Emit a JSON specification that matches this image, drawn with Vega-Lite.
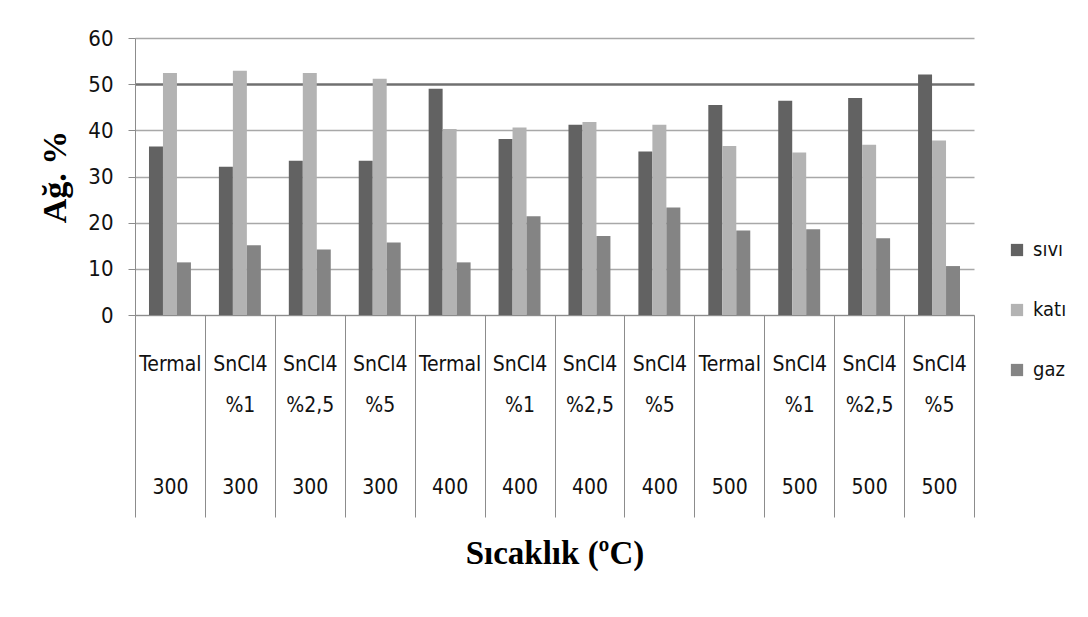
{
  "$schema": "https://vega.github.io/schema/vega-lite/v6.json",
  "width": 839,
  "height": 277,
  "autosize": {"type": "none"},
  "padding": {"left": 135, "top": 38, "right": 114, "bottom": 302},
  "background": "white",
  "config": {
    "view": {"stroke": null},
    "font": "DejaVu Sans Condensed, Liberation Sans Narrow, DejaVu Sans, sans-serif"
  },
  "data": {
    "values": [
      {"kosul": "Termal|\u200b|\u200b|300", "urun": "sıvı", "deger": 36.5},
      {"kosul": "Termal|\u200b|\u200b|300", "urun": "katı", "deger": 52.4},
      {"kosul": "Termal|\u200b|\u200b|300", "urun": "gaz", "deger": 11.4},
      {"kosul": "SnCl4|%1|\u200b|300", "urun": "sıvı", "deger": 32.1},
      {"kosul": "SnCl4|%1|\u200b|300", "urun": "katı", "deger": 52.9},
      {"kosul": "SnCl4|%1|\u200b|300", "urun": "gaz", "deger": 15.1},
      {"kosul": "SnCl4|%2,5|\u200b|300", "urun": "sıvı", "deger": 33.4},
      {"kosul": "SnCl4|%2,5|\u200b|300", "urun": "katı", "deger": 52.4},
      {"kosul": "SnCl4|%2,5|\u200b|300", "urun": "gaz", "deger": 14.2},
      {"kosul": "SnCl4|%5|\u200b|300", "urun": "sıvı", "deger": 33.4},
      {"kosul": "SnCl4|%5|\u200b|300", "urun": "katı", "deger": 51.2},
      {"kosul": "SnCl4|%5|\u200b|300", "urun": "gaz", "deger": 15.7},
      {"kosul": "Termal|\u200b|\u200b|400", "urun": "sıvı", "deger": 49.0},
      {"kosul": "Termal|\u200b|\u200b|400", "urun": "katı", "deger": 40.3},
      {"kosul": "Termal|\u200b|\u200b|400", "urun": "gaz", "deger": 11.4},
      {"kosul": "SnCl4|%1|\u200b|400", "urun": "sıvı", "deger": 38.1},
      {"kosul": "SnCl4|%1|\u200b|400", "urun": "katı", "deger": 40.6},
      {"kosul": "SnCl4|%1|\u200b|400", "urun": "gaz", "deger": 21.4},
      {"kosul": "SnCl4|%2,5|\u200b|400", "urun": "sıvı", "deger": 41.2},
      {"kosul": "SnCl4|%2,5|\u200b|400", "urun": "katı", "deger": 41.8},
      {"kosul": "SnCl4|%2,5|\u200b|400", "urun": "gaz", "deger": 17.1},
      {"kosul": "SnCl4|%5|\u200b|400", "urun": "sıvı", "deger": 35.4},
      {"kosul": "SnCl4|%5|\u200b|400", "urun": "katı", "deger": 41.2},
      {"kosul": "SnCl4|%5|\u200b|400", "urun": "gaz", "deger": 23.3},
      {"kosul": "Termal|\u200b|\u200b|500", "urun": "sıvı", "deger": 45.5},
      {"kosul": "Termal|\u200b|\u200b|500", "urun": "katı", "deger": 36.6},
      {"kosul": "Termal|\u200b|\u200b|500", "urun": "gaz", "deger": 18.3},
      {"kosul": "SnCl4|%1|\u200b|500", "urun": "sıvı", "deger": 46.4},
      {"kosul": "SnCl4|%1|\u200b|500", "urun": "katı", "deger": 35.2},
      {"kosul": "SnCl4|%1|\u200b|500", "urun": "gaz", "deger": 18.6},
      {"kosul": "SnCl4|%2,5|\u200b|500", "urun": "sıvı", "deger": 47.0},
      {"kosul": "SnCl4|%2,5|\u200b|500", "urun": "katı", "deger": 36.9},
      {"kosul": "SnCl4|%2,5|\u200b|500", "urun": "gaz", "deger": 16.6},
      {"kosul": "SnCl4|%5|\u200b|500", "urun": "sıvı", "deger": 52.1},
      {"kosul": "SnCl4|%5|\u200b|500", "urun": "katı", "deger": 37.8},
      {"kosul": "SnCl4|%5|\u200b|500", "urun": "gaz", "deger": 10.6}
    ]
  },
  "mark": {"type": "bar"},
  "encoding": {
    "x": {
      "field": "kosul",
      "type": "nominal",
      "sort": null,
      "scale": {"paddingInner": 0, "paddingOuter": 0},
      "axis": {
        "title": "Sıcaklık (ºC)",
        "labelExpr": "split(datum.label, '|')",
        "tickBand": "extent",
        "tickSize": 202,
        "tickColor": "#8c8c8c",
        "domainColor": "#8c8c8c",
        "labelAngle": 0,
        "labelPadding": -164,
        "labelBaseline": "top",
        "labelLineHeight": 41,
        "labelFontSize": 21,
        "labelColor": "#111111",
        "labelOverlap": false,
        "labelLimit": 0,
        "titleFont": "Liberation Serif",
        "titleFontWeight": "bold",
        "titleFontSize": 33,
        "titleColor": "#000000",
        "titleX": 419.5,
        "titleY": 248,
        "titleAlign": "center",
        "titleBaseline": "alphabetic"
      }
    },
    "xOffset": {
      "field": "urun",
      "type": "nominal",
      "sort": ["sıvı", "katı", "gaz"],
      "scale": {"paddingInner": 0, "paddingOuter": 1.6}
    },
    "y": {
      "field": "deger",
      "type": "quantitative",
      "scale": {"domain": [0, 60]},
      "axis": {
        "title": "Ağ. %",
        "values": [0, 10, 20, 30, 40, 50, 60],
        "grid": true,
        "gridColor": {"condition": {"test": "datum.value === 50", "value": "#707070"}, "value": "#a8a8a8"},
        "gridWidth": {"condition": {"test": "datum.value === 50", "value": 2.5}, "value": 1.5},
        "domainColor": "#8c8c8c",
        "tickColor": "#8c8c8c",
        "tickSize": 7,
        "labelPadding": 15,
        "labelFontSize": 22,
        "labelColor": "#111111",
        "titleFont": "Liberation Serif",
        "titleFontWeight": "bold",
        "titleFontSize": 34,
        "titleColor": "#000000",
        "titleAngle": 270,
        "titleX": -70,
        "titleY": 138.5,
        "titleAlign": "center",
        "titleBaseline": "alphabetic"
      }
    },
    "color": {
      "field": "urun",
      "type": "nominal",
      "sort": ["sıvı", "katı", "gaz"],
      "scale": {"domain": ["sıvı", "katı", "gaz"], "range": ["#626262", "#b3b3b3", "#848484"]},
      "legend": {
        "orient": "none",
        "legendX": 872,
        "legendY": 202,
        "title": null,
        "symbolType": "square",
        "symbolSize": 150,
        "symbolStrokeWidth": 0,
        "labelFontSize": 20,
        "labelColor": "#111111",
        "labelOffset": 6,
        "rowPadding": 40,
        "padding": 0
      }
    }
  }
}
